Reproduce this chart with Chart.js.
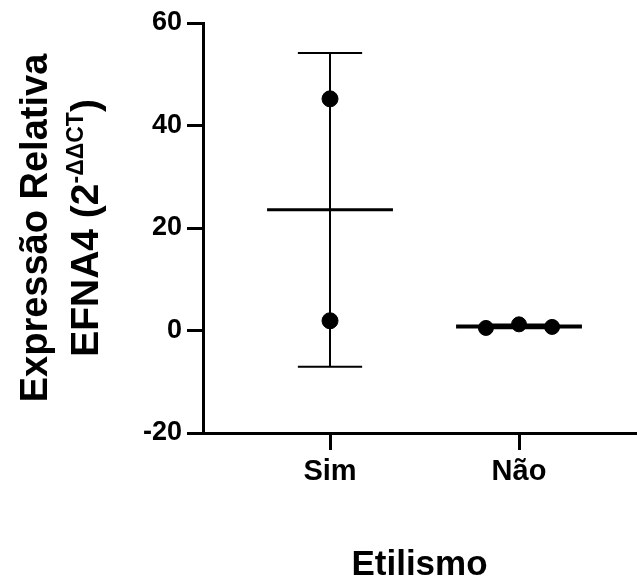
<!DOCTYPE html>
<html>
<head>
<meta charset="utf-8">
<script src="https://cdn.jsdelivr.net/npm/chart.js@4"></script>
<style>
  body { margin: 0; background: #fff; }
  #wrap { width: 637px; height: 586px; }
</style>
</head>
<body>
<div id="wrap"><canvas id="chart" width="637" height="586"></canvas></div>
<script>
// grupos e valores individuais (2^-ΔΔCT)
const groups = ['Sim', 'Não'];
const valuesSim = [45.2, 1.9];
const valuesNao = [0.5, 1.2, 0.7];
const yTicks = [-20, 0, 20, 40, 60];

const groupValues = [valuesSim, valuesNao];
const jitter = [[0, 0], [-0.175, 0, 0.175]]; // espalhamento horizontal dos pontos
const meanHalf = 0.333;  // meia largura da linha da média
const capHalf = 0.17;    // meia largura das barras de erro

function mean(a) { return a.reduce((s, v) => s + v, 0) / a.length; }
function sd(a) {
    const m = mean(a);
    return Math.sqrt(a.reduce((s, v) => s + (v - m) * (v - m), 0) / (a.length - 1));
}

const datasets = [];
groupValues.forEach((vals, gi) => {
    const gx = gi + 1;
    const m = mean(vals);
    const s = sd(vals);
    // barra de erro (média ± DP) com as pontas
    datasets.push({
        data: [
            { x: gx, y: m - s }, { x: gx, y: m + s }, { x: gx, y: null },
            { x: gx - capHalf, y: m + s }, { x: gx + capHalf, y: m + s }, { x: gx, y: null },
            { x: gx - capHalf, y: m - s }, { x: gx + capHalf, y: m - s }
        ],
        showLine: true, spanGaps: false, borderColor: '#000', borderWidth: 2,
        pointRadius: 0, order: 3
    });
    // linha da média
    datasets.push({
        data: [{ x: gx - meanHalf, y: m }, { x: gx + meanHalf, y: m }],
        showLine: true, borderColor: '#000', borderWidth: gi === 0 ? 3 : 4,
        pointRadius: 0, order: 2
    });
    // pontos individuais
    datasets.push({
        data: vals.map((v, i) => ({ x: gx + jitter[gi][i], y: v })),
        showLine: false, backgroundColor: '#000', borderColor: '#000',
        pointRadius: gi === 0 ? 8 : 7.5, order: 1
    });
});

const fontFamily = '"Liberation Sans", Arial, sans-serif';

// título do eixo y em duas linhas, com expoente
const yTitlePlugin = {
    id: 'yTitle',
    afterDraw(chart) {
        const ctx = chart.ctx;
        const cy = (chart.chartArea.top + chart.chartArea.bottom) / 2;
        ctx.save();
        ctx.fillStyle = '#000';
        ctx.textBaseline = 'alphabetic';
        ctx.font = 'bold 38px ' + fontFamily;

        ctx.save();
        ctx.translate(47, cy);
        ctx.rotate(-Math.PI / 2);
        ctx.textAlign = 'center';
        ctx.fillText('Expressão Relativa', 0, 0);
        ctx.restore();

        const base = 'EFNA4 (2';
        const sup = '-ΔΔCT';
        const close = ')';
        const bigFont = 'bold 39px ' + fontFamily;
        const supFont = 'bold 23px ' + fontFamily;
        ctx.font = bigFont;
        const w1 = ctx.measureText(base).width;
        const w3 = ctx.measureText(close).width;
        ctx.font = supFont;
        const w2 = ctx.measureText(sup).width;
        const total = w1 + w2 + w3;

        ctx.save();
        ctx.translate(98, cy);
        ctx.rotate(-Math.PI / 2);
        ctx.textAlign = 'left';
        let x = -total / 2;
        ctx.font = bigFont;
        ctx.fillText(base, x, 0);
        x += w1;
        ctx.font = supFont;
        ctx.fillText(sup, x, -15);
        x += w2;
        ctx.font = bigFont;
        ctx.fillText(close, x, 0);
        ctx.restore();

        ctx.restore();
    }
};

new Chart(document.getElementById('chart').getContext('2d'), {
    type: 'scatter',
    data: { datasets: datasets },
    options: {
        responsive: false,
        animation: false,
        layout: { autoPadding: false, padding: { top: 23, right: 1, left: 0, bottom: 0 } },
        plugins: {
            legend: { display: false },
            tooltip: { enabled: false }
        },
        scales: {
            x: {
                type: 'linear',
                min: 0.328,
                max: 2.619,
                afterFit: scale => { scale.height = 153; },
                afterBuildTicks: scale => { scale.ticks = groups.map((g, i) => ({ value: i + 1 })); },
                ticks: {
                    color: '#000',
                    padding: 5,
                    font: { family: fontFamily, size: 29, weight: 'bold' },
                    callback: v => groups[v - 1]
                },
                grid: { drawOnChartArea: false, color: '#000', lineWidth: 3, tickLength: 17 },
                border: { color: '#000', width: 3 },
                title: {
                    display: true,
                    text: 'Etilismo',
                    color: '#000',
                    padding: { top: 0, bottom: 0 },
                    font: { family: fontFamily, size: 35, weight: 'bold' }
                }
            },
            y: {
                min: -20,
                max: 60,
                afterFit: scale => { scale.width = 203; },
                afterBuildTicks: scale => { scale.ticks = yTicks.map(v => ({ value: v })); },
                ticks: {
                    color: '#000',
                    padding: 5,
                    font: { family: fontFamily, size: 27, weight: 'bold' }
                },
                grid: { drawOnChartArea: false, color: '#000', lineWidth: 3, tickLength: 16 },
                border: { color: '#000', width: 3 }
            }
        }
    },
    plugins: [yTitlePlugin]
});
</script>
</body>
</html>
